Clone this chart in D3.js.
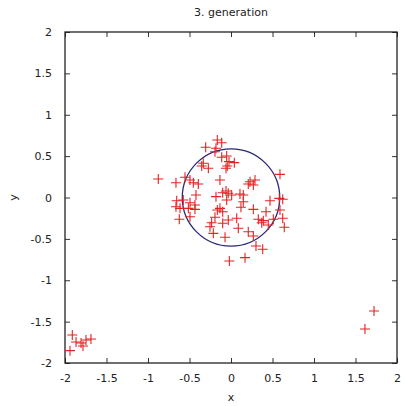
<!DOCTYPE html>
<html>
<head>
<meta charset="utf-8">
<script src="https://cdn.jsdelivr.net/npm/d3@7"></script>
<style>
  body { margin: 0; background: #fff; }
  text { font-family: "DejaVu Sans", sans-serif; font-size: 11px; fill: #222; }
</style>
</head>
<body>
<div class="chart"></div>
<script>
var svgWidth = 405;
var svgHeight = 406;

var margin = { top: 32, right: 8, bottom: 43, left: 65 };

var width = svgWidth - margin.left - margin.right;
var height = svgHeight - margin.top - margin.bottom;

// population points
var xs = [-0.165, -0.112, -0.305, -0.181, -0.193, -0.052, -0.112, 0.040, -0.024, -0.334,
    -0.353, -0.273, -0.060, -0.045, 0.590, -0.876, -0.663, -0.554, -0.494, -0.454,
    -0.394, -0.133, 0.229, 0.289, 0.208, 0.269, -0.060, -0.033, -0.100, 0.008,
    0.108, 0.148, -0.181, -0.422, 0.582, 0.623, 0.470, 0.148, -0.052, -0.654,
    -0.575, -0.494, -0.434, -0.663, -0.614, -0.514, -0.434, -0.133, -0.100, -0.165,
    0.120, 0.269, 0.422, 0.590, -0.623, -0.494, -0.193, -0.033, 0.069, 0.329,
    0.389, 0.370, 0.510, 0.623, -0.233, -0.100, -0.253, 0.088, 0.642, 0.449,
    -0.213, -0.072, 0.208, 0.269, 0.301, 0.382, -0.020, 0.169,
    -1.912, -1.867, -1.807, -1.783, -1.747, -1.687, -1.940,
    1.723, 1.614];
var ys = [0.695, 0.662, 0.607, 0.595, 0.553, 0.502, 0.486, 0.421, 0.433, 0.413,
    0.381, 0.353, 0.353, 0.381, 0.280, 0.224, 0.179, 0.244, 0.211, 0.179,
    0.163, 0.211, 0.191, 0.211, 0.163, 0.151, 0.079, 0.051, 0.058, 0.030,
    0.042, 0.030, 0.010, 0.030, -0.010, -0.022, -0.039, -0.051, -0.030, -0.039,
    -0.030, -0.063, -0.091, -0.111, -0.131, -0.131, -0.143, -0.131, -0.172, -0.151,
    -0.118, -0.143, -0.172, -0.151, -0.263, -0.232, -0.239, -0.272, -0.251, -0.263,
    -0.280, -0.305, -0.263, -0.251, -0.305, -0.312, -0.353, -0.372, -0.360, -0.332,
    -0.433, -0.481, -0.413, -0.465, -0.586, -0.626, -0.767, -0.727,
    -1.662, -1.746, -1.758, -1.795, -1.722, -1.710, -1.851,
    -1.372, -1.589];

var circleRadius = 0.587;
var tickValues = [-2, -1.5, -1, -0.5, 0, 0.5, 1, 1.5, 2];

var data = xs.map(function(x, i) { return { x: x, y: ys[i] }; });

var svg = d3.select(".chart")
    .append("svg")
    .attr("width", svgWidth)
    .attr("height", svgHeight);

var chart = svg.append("g")
    .attr("transform", "translate(" + margin.left + "," + margin.top + ")");

var xLinearScale = d3.scaleLinear().domain([-2, 2]).range([0, width]);
var yLinearScale = d3.scaleLinear().domain([-2, 2]).range([height, 0]);

var tickFmt = function(d) { return String(d); };

// ticks point inward, mirrored on all sides like gnuplot
chart.append("g")
    .attr("transform", `translate(0, ${height})`)
    .call(d3.axisBottom(xLinearScale).tickValues(tickValues).tickFormat(tickFmt).tickSize(-5).tickPadding(11));
chart.append("g")
    .call(d3.axisTop(xLinearScale).tickValues(tickValues).tickFormat("").tickSize(-5));
chart.append("g")
    .call(d3.axisLeft(yLinearScale).tickValues(tickValues).tickFormat(tickFmt).tickSize(-5).tickPadding(13));
chart.append("g")
    .attr("transform", `translate(${width}, 0)`)
    .call(d3.axisRight(yLinearScale).tickValues(tickValues).tickFormat("").tickSize(-5));

chart.selectAll(".domain").remove();
chart.selectAll(".tick line").attr("stroke", "#333");
chart.selectAll(".tick text")
    .style("font-family", "DejaVu Sans, sans-serif")
    .style("font-size", "11px")
    .attr("fill", "#222");

chart.append("rect")
    .attr("width", width)
    .attr("height", height)
    .attr("fill", "none")
    .attr("stroke", "#222")
    .attr("stroke-width", 1.3);

// the circle
chart.append("ellipse")
    .attr("cx", xLinearScale(0))
    .attr("cy", yLinearScale(0))
    .attr("rx", xLinearScale(circleRadius) - xLinearScale(0))
    .attr("ry", yLinearScale(0) - yLinearScale(circleRadius))
    .attr("fill", "none")
    .attr("stroke", "#27277a")
    .attr("stroke-width", 1.3);

// plus markers
var s = 5;
chart.selectAll("path.pt")
    .data(data)
    .enter()
    .append("path")
    .attr("class", "pt")
    .attr("d", function(d) {
        var cx = xLinearScale(d.x), cy = yLinearScale(d.y);
        return "M" + (cx - s) + "," + cy + "H" + (cx + s) + "M" + cx + "," + (cy - s) + "V" + (cy + s);
    })
    .attr("stroke", "#e52222")
    .attr("stroke-width", 1.1)
    .attr("fill", "none");

svg.append("text")
    .attr("x", margin.left + width / 2)
    .attr("y", 16)
    .attr("text-anchor", "middle")
    .text("3. generation");

svg.append("text")
    .attr("x", margin.left + width / 2)
    .attr("y", 401)
    .attr("text-anchor", "middle")
    .text("x");

svg.append("text")
    .attr("transform", "translate(17," + (margin.top + height / 2) + ") rotate(-90)")
    .attr("text-anchor", "middle")
    .text("y");
</script>
</body>
</html>
